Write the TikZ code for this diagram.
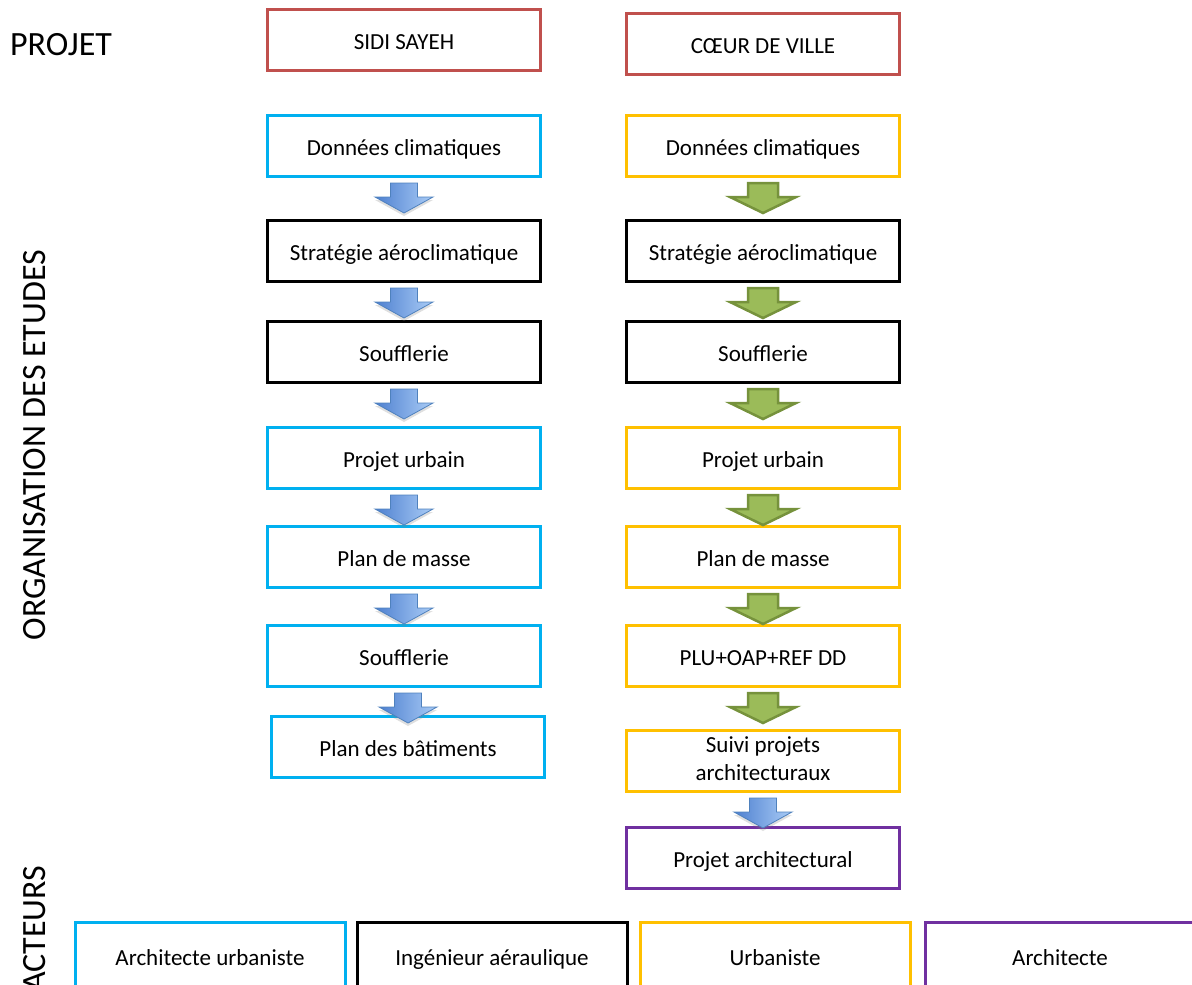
\documentclass[tikz,border=0pt]{standalone}
\usepackage{fontspec}
\setmainfont{Carlito}
\usepackage{tikz}
\usetikzlibrary{calc,shadows}
\definecolor{projred}{RGB}{192,80,77}
\definecolor{archcyan}{RGB}{0,176,240}
\definecolor{urbyellow}{RGB}{255,192,0}
\definecolor{archpurple}{RGB}{112,48,160}
\definecolor{arrblueA}{RGB}{78,128,208}
\definecolor{arrblueB}{RGB}{170,204,246}
\definecolor{arrblueline}{RGB}{79,129,189}
\definecolor{arrgreen}{RGB}{155,187,89}
\definecolor{arrgreenline}{RGB}{118,146,60}

% block arrow under #2, pointing at #3 (#4 half shaft, #5 half head)
\newcommand{\blockarr}[5]{%
  \draw[#1] let \p1=(#2.south), \p2=(#3.north) in
    ([shift={(-#4,5)}]\x2,\y1) -- ([shift={(#4,5)}]\x2,\y1)
    -- ([shift={(#4,19)}]\x2,\y1) -- ([shift={(#5,19)}]\x2,\y1)
    -- ([shift={(0,35)}]\x2,\y1) -- ([shift={(-#5,19)}]\x2,\y1)
    -- ([shift={(-#4,19)}]\x2,\y1) -- cycle;}

\begin{document}
\begin{tikzpicture}[x=1pt,y=-1pt,
    box/.style={draw, line width=3pt, minimum width=273pt, minimum height=61pt,
      inner sep=2pt, align=center, font=\fontsize{23}{28}\selectfont,
      execute at begin node={\rule[-4pt]{0pt}{26pt}}},
    actor/.style={box, minimum width=270pt, minimum height=68pt},
    title/.style={font=\fontsize{34}{40}\selectfont},
    bluearr/.style={draw=arrblueline, line width=0.8pt, left color=arrblueA,
      right color=arrblueB, drop shadow={opacity=0.25, shadow xshift=0pt, shadow yshift=-3pt}},
    greenarr/.style={draw=arrgreenline, line width=2.5pt, fill=arrgreen, line join=miter}]
  \useasboundingbox (0,0) rectangle (1192,985);
  \clip (0,0) rectangle (1192,985);

  % side titles
  \node[title] (tprojet) at (61,45) {PROJET};
  \node[title, rotate=90] (torga) at (35,445) {ORGANISATION DES ETUDES};
  \node[title, rotate=90, anchor=east] (tact) at (35,862) {ACTEURS};

  % Sidi Sayeh
  \node[box, draw=projred] (sidi) at (404,40) {SIDI SAYEH};
  \node[box, draw=archcyan] (sdon) at (404,146) {Données climatiques};
  \node[box, draw=black] (sstrat) at (404,251) {Stratégie aéroclimatique};
  \node[box, draw=black] (ssouf) at (404,352) {Soufflerie};
  \node[box, draw=archcyan] (surb) at (404,458) {Projet urbain};
  \node[box, draw=archcyan] (smasse) at (404,557) {Plan de masse};
  \node[box, draw=archcyan] (ssoufb) at (404,656) {Soufflerie};
  \node[box, draw=archcyan] (sbat) at (408,747) {Plan des bâtiments};

  % Coeur de ville
  \node[box, draw=projred] (coeur) at (763,44) {CŒUR DE VILLE};
  \node[box, draw=urbyellow] (cdon) at (763,146) {Données climatiques};
  \node[box, draw=black] (cstrat) at (763,251) {Stratégie aéroclimatique};
  \node[box, draw=black] (csouf) at (763,352) {Soufflerie};
  \node[box, draw=urbyellow] (curb) at (763,458) {Projet urbain};
  \node[box, draw=urbyellow] (cmasse) at (763,557) {Plan de masse};
  \node[box, draw=urbyellow] (cplu) at (763,656) {PLU+OAP+REF DD};
  \node[box, draw=urbyellow] (csuivi) at (763,761) {Suivi projets\\architecturaux};
  \node[box, draw=archpurple] (carch) at (763,858) {Projet architectural};

  % acteurs
  \node[actor, draw=archcyan] (aurb) at (210,956) {Architecte urbaniste};
  \node[actor, draw=black] (aing) at (492,956) {Ingénieur aéraulique};
  \node[actor, draw=urbyellow] (aurba) at (775,956) {Urbaniste};
  \node[actor, draw=archpurple] (aarch) at (1060,956) {Architecte};

  % arrows
  \foreach \a/\b in {sdon/sstrat, sstrat/ssouf, ssouf/surb, surb/smasse, smasse/ssoufb, ssoufb/sbat}
    \blockarr{bluearr}{\a}{\b}{13.5}{29};
  \foreach \a/\b in {cdon/cstrat, cstrat/csouf, csouf/curb, curb/cmasse, cmasse/cplu, cplu/csuivi}
    \blockarr{greenarr}{\a}{\b}{15}{33};
  \blockarr{bluearr}{csuivi}{carch}{13.5}{29};
\end{tikzpicture}
\end{document}
